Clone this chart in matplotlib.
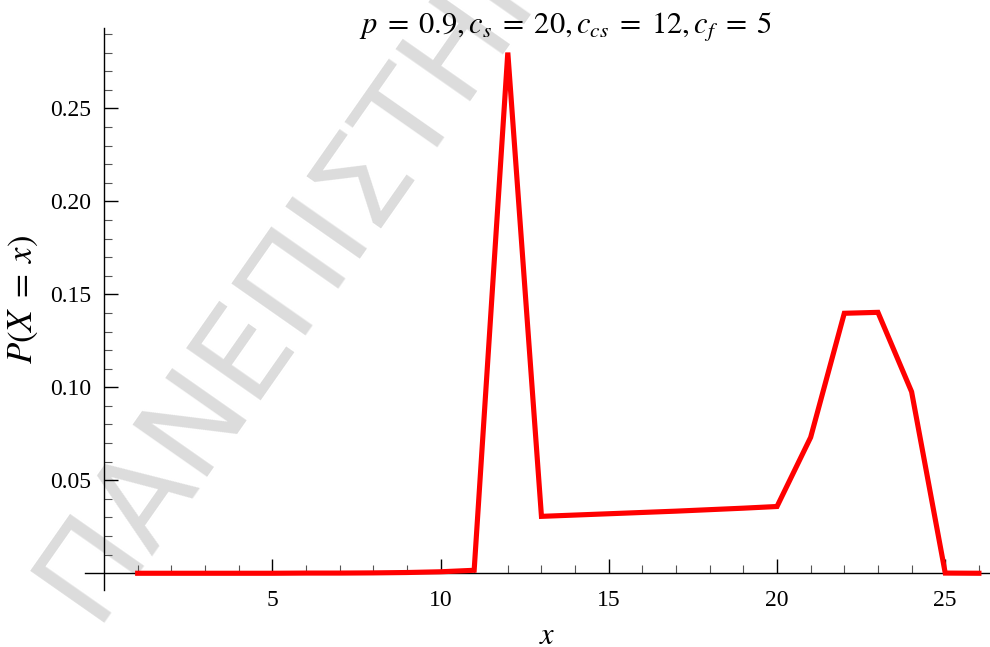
import matplotlib
matplotlib.use("Agg")
import matplotlib.pyplot as plt
from matplotlib.ticker import FixedLocator, FormatStrFormatter

plt.rcParams["mathtext.fontset"] = "stix"

# Probability mass function values
x_vals = list(range(1, 27))
p_vals = [0.0000, 0.0000, 0.0000, 0.0000, 0.0000, 0.0001, 0.0001, 0.0002,
          0.0004, 0.0008, 0.0016, 0.2800, 0.0306, 0.0313, 0.0320, 0.0327,
          0.0334, 0.0342, 0.0350, 0.0359, 0.0731, 0.1398, 0.1403, 0.0976,
          0.0001, 0.0000]

x_major = [5, 10, 15, 20, 25]
x_minor = [v for v in range(1, 27) if v % 5]
y_major = [0.05, 0.10, 0.15, 0.20, 0.25]
y_minor = [k / 100 for k in range(1, 30) if k % 5]

title_text = r"$p\;=\;0.9,c_s\;=\;20,c_{cs}\;=\;12,c_f\;=\;5$"
ylabel_text = r"$P(X\;=\;x)$"
xlabel_text = r"$x$"
watermark_text = "ΠΑΝΕΠΙΣΤΗΜΙΟ"

W, H = 990, 647
fig = plt.figure(figsize=(W / 100, H / 100), dpi=100)
fig.patch.set_facecolor("white")

# plot frame in pixels: left 85, right 990, top 28, bottom 590
ax = fig.add_axes([85 / W, (H - 590) / H, (990 - 85) / W, (590 - 28) / H])
ax.patch.set_alpha(0)
ax.set_xlim(-0.565, 26.33)
ax.set_ylim(-0.009, 0.2932)

ax.plot(x_vals, p_vals, color="#ff0000", lw=3.7, solid_joinstyle="miter",
        clip_on=False, zorder=3)

for side in ("top", "right"):
    ax.spines[side].set_visible(False)
ax.spines["left"].set_position(("data", 0))
ax.spines["bottom"].set_position(("data", 0))
for side in ("left", "bottom"):
    ax.spines[side].set_linewidth(1.0)
    ax.spines[side].set_color("black")

ax.xaxis.set_major_locator(FixedLocator(x_major))
ax.xaxis.set_minor_locator(FixedLocator(x_minor))
ax.yaxis.set_major_locator(FixedLocator(y_major))
ax.yaxis.set_minor_locator(FixedLocator(y_minor))
ax.yaxis.set_major_formatter(FormatStrFormatter("%.2f"))

ax.tick_params(axis="both", which="major", direction="in", length=10,
               width=1.0, color="black", labelsize=17)
ax.tick_params(axis="both", which="minor", direction="in", length=6,
               width=0.8, color="#555555")
ax.tick_params(axis="x", which="major", pad=12)
ax.tick_params(axis="y", which="major", pad=9.4)
for lab in ax.get_xticklabels() + ax.get_yticklabels():
    lab.set_fontfamily("Liberation Serif")

fig.text(565 / W, (H - 33) / H, title_text, ha="center", va="baseline",
         fontsize=22)
fig.text(23 / W, (H - 299) / H, ylabel_text, rotation=90, ha="center",
         va="center", fontsize=25)
fig.text(547 / W, (H - 635) / H, xlabel_text, ha="center", va="center",
         fontsize=22)

# diagonal watermark behind the plot
fig.text(93.1 / W, 24.2 / H, watermark_text, rotation=55,
         rotation_mode="anchor", ha="left", va="baseline", fontsize=90,
         family="DejaVu Sans", color="#dcdcdc", zorder=-1)

fig.savefig("out.png", dpi=100)
